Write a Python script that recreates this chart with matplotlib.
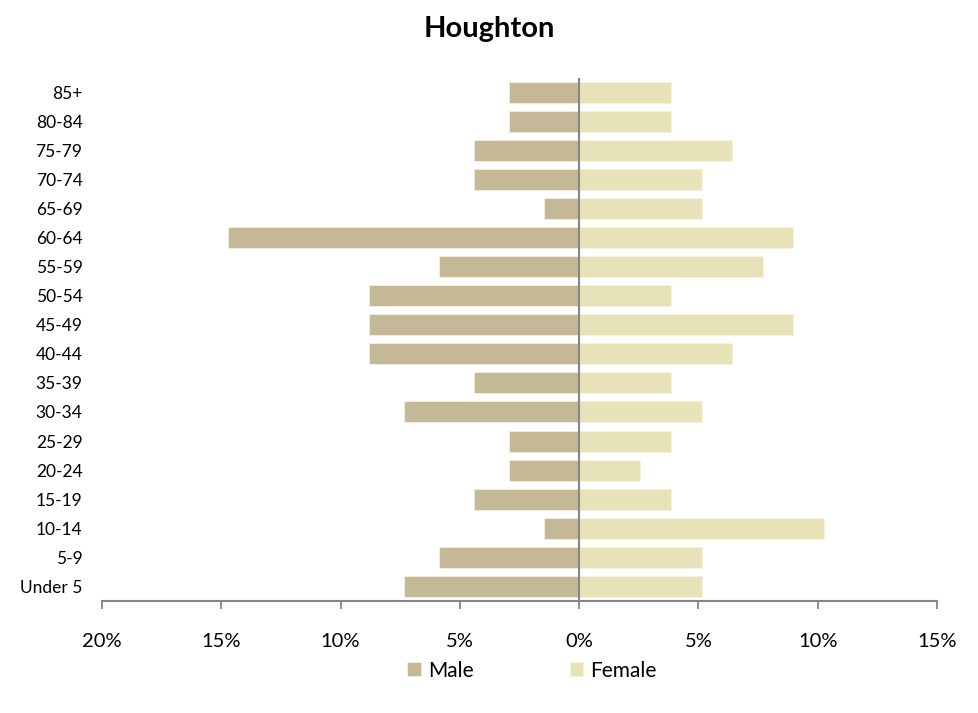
import matplotlib.pyplot as plt
import numpy as np

AGE_GROUPS = ["Under 5", "5-9", "10-14", "15-19", "20-24", "25-29", "30-34",
              "35-39", "40-44", "45-49", "50-54", "55-59", "60-64", "65-69",
              "70-74", "75-79", "80-84", "85+"]
MALE_PCT = [7.35, 5.88, 1.47, 4.41, 2.94, 2.94, 7.35, 4.41, 8.82, 8.82, 8.82,
            5.88, 14.71, 1.47, 4.41, 4.41, 2.94, 2.94]
FEMALE_PCT = [5.13, 5.13, 10.26, 3.85, 2.56, 3.85, 5.13, 3.85, 6.41, 8.97, 3.85,
              7.69, 8.97, 5.13, 5.13, 6.41, 3.85, 3.85]
X_TICKS = [-20, -15, -10, -5, 0, 5, 10, 15]

MALE_COLOR = "#C4B896"
FEMALE_COLOR = "#E8E2B8"
GRAY = "#868686"

plt.rcParams["font.family"] = ["Lato", "DejaVu Sans"]

fig = plt.figure(figsize=(9.79, 7.13), dpi=100)
ax = fig.add_axes([0.1042, 0.1571, 0.8529, 0.7342])

y = np.arange(len(AGE_GROUPS))
ax.barh(y, -np.array(MALE_PCT), height=0.72, color=MALE_COLOR,
        edgecolor="#F4F1E4", linewidth=0.6, label="Male")
ax.barh(y, FEMALE_PCT, height=0.72, color=FEMALE_COLOR,
        edgecolor="#F6F3E2", linewidth=0.6, label="Female")

ax.axvline(0, color=GRAY, linewidth=1.5, zorder=3)

ax.set_xlim(-20, 15)
ax.set_ylim(-0.5, len(AGE_GROUPS) - 0.5)
ax.set_xticks(X_TICKS)
ax.set_xticklabels([f"{abs(v)}%" for v in X_TICKS], fontsize=14.5)
ax.set_yticks(y)
ax.set_yticklabels(AGE_GROUPS, fontsize=12.5)
ax.tick_params(axis="y", length=0, pad=14)
ax.tick_params(axis="x", length=6, width=1.3, color=GRAY, pad=17, direction="out")

for side in ["left", "right", "top"]:
    ax.spines[side].set_visible(False)
ax.spines["bottom"].set_color(GRAY)
ax.spines["bottom"].set_linewidth(1.5)

fig.suptitle("Houghton", fontsize=21, fontweight="bold", y=0.978)
ax.legend(loc="upper center", bbox_to_anchor=(0.515, -0.078), ncol=2,
          frameon=False, fontsize=15, handlelength=0.65, handleheight=0.65,
          columnspacing=4.6, handletextpad=0.35)

fig.savefig("out.png", dpi=100)
